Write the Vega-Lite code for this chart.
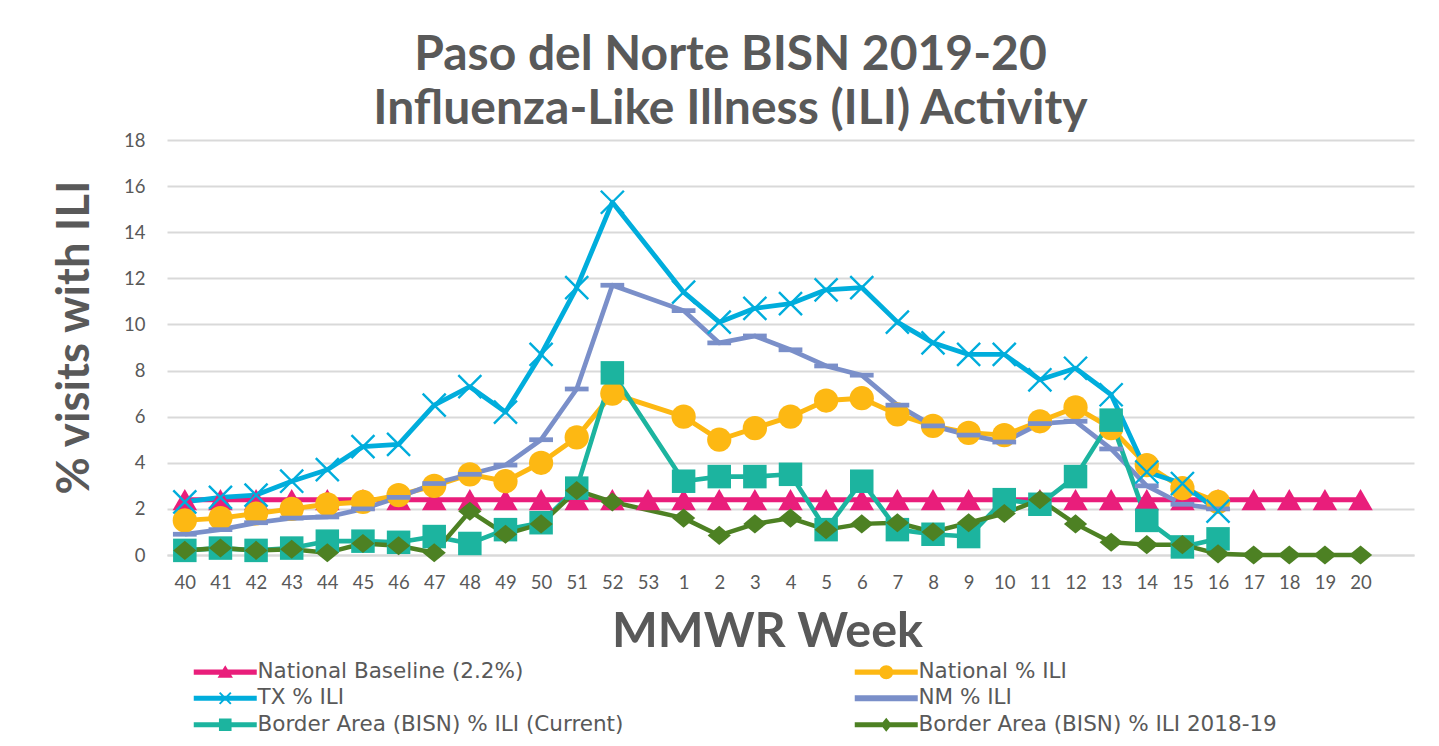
{
  "$schema": "https://vega.github.io/schema/vega-lite/v6.json",
  "width": 1247,
  "height": 415,
  "autosize": {"type": "none"},
  "padding": {"left": 167, "top": 140, "right": 25, "bottom": 191},
  "background": "white",
  "title": {
    "text": ["Paso del Norte BISN 2019-20", "Influenza-Like Illness (ILI) Activity"],
    "font": "Lato",
    "fontSize": 48,
    "fontWeight": "bold",
    "color": "#595959",
    "lineHeight": 54,
    "anchor": "middle",
    "dx": -60,
    "offset": -3
  },
  "data": {
    "values": [
      {"w": "40", "B": 2.4, "N": 1.5, "T": 2.3, "M": 0.9, "C": 0.2, "P": 0.2},
      {"w": "41", "B": 2.4, "N": 1.6, "T": 2.5, "M": 1.1, "C": 0.3, "P": 0.3},
      {"w": "42", "B": 2.4, "N": 1.8, "T": 2.6, "M": 1.4, "C": 0.2, "P": 0.2},
      {"w": "43", "B": 2.4, "N": 2.0, "T": 3.2, "M": 1.6, "C": 0.3, "P": 0.25},
      {"w": "44", "B": 2.4, "N": 2.2, "T": 3.7, "M": 1.65, "C": 0.6, "P": 0.1},
      {"w": "45", "B": 2.4, "N": 2.3, "T": 4.7, "M": 2.0, "C": 0.6, "P": 0.5},
      {"w": "46", "B": 2.4, "N": 2.6, "T": 4.8, "M": 2.5, "C": 0.55, "P": 0.4},
      {"w": "47", "B": 2.4, "N": 3.0, "T": 6.5, "M": 3.1, "C": 0.8, "P": 0.1},
      {"w": "48", "B": 2.4, "N": 3.5, "T": 7.3, "M": 3.5, "C": 0.5, "P": 1.9},
      {"w": "49", "B": 2.4, "N": 3.2, "T": 6.2, "M": 3.9, "C": 1.1, "P": 0.9},
      {"w": "50", "B": 2.4, "N": 4.0, "T": 8.7, "M": 5.0, "C": 1.4, "P": 1.35},
      {"w": "51", "B": 2.4, "N": 5.1, "T": 11.6, "M": 7.2, "C": 2.9, "P": 2.8},
      {"w": "52", "B": 2.4, "N": 7.0, "T": 15.3, "M": 11.7, "C": 7.9, "P": 2.3},
      {"w": "53", "B": 2.4},
      {"w": "1", "B": 2.4, "N": 6.0, "T": 11.4, "M": 10.6, "C": 3.2, "P": 1.6},
      {"w": "2", "B": 2.4, "N": 5.0, "T": 10.1, "M": 9.2, "C": 3.4, "P": 0.85},
      {"w": "3", "B": 2.4, "N": 5.5, "T": 10.7, "M": 9.5, "C": 3.4, "P": 1.35},
      {"w": "4", "B": 2.4, "N": 6.0, "T": 10.9, "M": 8.9, "C": 3.5, "P": 1.6},
      {"w": "5", "B": 2.4, "N": 6.7, "T": 11.5, "M": 8.2, "C": 1.1, "P": 1.1},
      {"w": "6", "B": 2.4, "N": 6.8, "T": 11.6, "M": 7.8, "C": 3.2, "P": 1.35},
      {"w": "7", "B": 2.4, "N": 6.1, "T": 10.1, "M": 6.5, "C": 1.1, "P": 1.4},
      {"w": "8", "B": 2.4, "N": 5.6, "T": 9.2, "M": 5.6, "C": 0.9, "P": 1.0},
      {"w": "9", "B": 2.4, "N": 5.3, "T": 8.7, "M": 5.2, "C": 0.8, "P": 1.4},
      {"w": "10", "B": 2.4, "N": 5.2, "T": 8.7, "M": 4.9, "C": 2.4, "P": 1.8},
      {"w": "11", "B": 2.4, "N": 5.8, "T": 7.6, "M": 5.7, "C": 2.2, "P": 2.4},
      {"w": "12", "B": 2.4, "N": 6.4, "T": 8.1, "M": 5.8, "C": 3.4, "P": 1.35},
      {"w": "13", "B": 2.4, "N": 5.5, "T": 6.95, "M": 4.6, "C": 5.85, "P": 0.55},
      {"w": "14", "B": 2.4, "N": 3.9, "T": 3.6, "M": 3.0, "C": 1.5, "P": 0.45},
      {"w": "15", "B": 2.4, "N": 2.9, "T": 3.1, "M": 2.2, "C": 0.35, "P": 0.45},
      {"w": "16", "B": 2.4, "N": 2.3, "T": 1.9, "M": 2.0, "C": 0.7, "P": 0.05},
      {"w": "17", "B": 2.4, "P": 0.0},
      {"w": "18", "B": 2.4, "P": 0.0},
      {"w": "19", "B": 2.4, "P": 0.0},
      {"w": "20", "B": 2.4, "P": 0.0}
    ]
  },
  "transform": [
    {"fold": ["B", "N", "T", "M", "C", "P"], "as": ["series", "value"]},
    {"filter": "isValid(datum.value)"}
  ],
  "encoding": {
    "x": {
      "field": "w",
      "type": "ordinal",
      "sort": ["40","41","42","43","44","45","46","47","48","49","50","51","52","53","1","2","3","4","5","6","7","8","9","10","11","12","13","14","15","16","17","18","19","20"," "],
      "scale": {"domain": ["40","41","42","43","44","45","46","47","48","49","50","51","52","53","1","2","3","4","5","6","7","8","9","10","11","12","13","14","15","16","17","18","19","20"," "]},
      "axis": {
        "title": "MMWR Week",
        "labelAngle": 0,
        "labelFont": "Lato",
        "labelFontSize": 18.5,
        "labelColor": "#595959",
        "labelPadding": 18,
        "ticks": false,
        "domain": true,
        "domainColor": "#D9D9D9",
        "domainWidth": 2,
        "titleFont": "Lato",
        "titleFontSize": 48.5,
        "titleFontWeight": "bold",
        "titleColor": "#595959",
        "titleX": 600,
        "titlePadding": 17
      }
    },
    "y": {
      "field": "value",
      "type": "quantitative",
      "scale": {"domain": [0, 18], "nice": false},
      "axis": {
        "title": "% visits with ILI",
        "values": [0,2,4,6,8,10,12,14,16,18],
        "labelFont": "Lato",
        "labelFontSize": 18.5,
        "labelColor": "#595959",
        "labelPadding": 22,
        "ticks": false,
        "domain": false,
        "grid": true,
        "gridColor": "#D9D9D9",
        "gridWidth": 2,
        "titleFont": "Lato",
        "titleFontSize": 45.5,
        "titleFontWeight": "bold",
        "titleColor": "#595959",
        "titlePadding": 25,
        "titleY": 197
      }
    }
  },
  "layer": [
    {
      "mark": {"type": "point", "filled": true, "opacity": 0},
      "encoding": {
        "color": {
          "field": "series", "type": "nominal",
          "scale": {"domain": ["B", "T", "C", "N", "M", "P"],
                    "range": ["#E91E7B", "#00ADDC", "#1CB49F", "#FDB813", "#7A8FC9", "#4D8123"]},
          "legend": {
            "title": null,
            "orient": "none",
            "legendX": 23,
            "legendY": 521,
            "columns": 2,
            "columnPadding": 227,
            "rowPadding": 3.5,
            "padding": 0,
            "labelFont": "DejaVu Sans",
            "labelFontSize": 21.5,
            "labelColor": "#595959",
            "labelLimit": 600,
            "labelOffset": 46,
            "symbolSize": 196,
            "symbolStrokeWidth": 0,
            "symbolOpacity": 1,
            "labelExpr": "{'B':'National Baseline (2.2%)','N':'National % ILI','T':'TX % ILI','M':'NM % ILI','C':'Border Area (BISN) % ILI (Current)','P':'Border Area (BISN) % ILI 2018-19'}[datum.label]"
          }
        },
        "shape": {
          "field": "series", "type": "nominal",
          "scale": {"domain": ["B", "T", "C", "N", "M", "P"],
                    "range": [
                      "M-1,-0.36L8,-0.36L8,0.36L-1,0.36Z M3.5,-1L4.6,0.8L2.4,0.8Z",
                      "M-1,-0.36L8,-0.36L8,0.36L-1,0.36Z M2.8,-0.9L4.4,0.7L4.2,0.9L2.6,-0.7Z M4.2,-0.9L4.4,-0.7L2.8,0.9L2.6,0.7Z",
                      "M-1,-0.36L8,-0.36L8,0.36L-1,0.36Z M2.6,-0.9L4.4,-0.9L4.4,0.9L2.6,0.9Z",
                      "M-1,-0.36L8,-0.36L8,0.36L-1,0.36Z M4.5,0A1,1,0,1,1,2.5,0A1,1,0,1,1,4.5,0Z",
                      "M-1,-0.42L8,-0.42L8,0.42L-1,0.42Z",
                      "M-1,-0.36L8,-0.36L8,0.36L-1,0.36Z M3.5,-1L4.3,0L3.5,1L2.7,0Z"
                    ]},
          "legend": {
            "title": null,
            "orient": "none",
            "legendX": 23,
            "legendY": 521,
            "columns": 2,
            "columnPadding": 227,
            "rowPadding": 3.5,
            "padding": 0,
            "labelFont": "DejaVu Sans",
            "labelFontSize": 21.5,
            "labelColor": "#595959",
            "labelLimit": 600,
            "labelOffset": 46,
            "symbolSize": 196,
            "symbolStrokeWidth": 0,
            "symbolOpacity": 1,
            "labelExpr": "{'B':'National Baseline (2.2%)','N':'National % ILI','T':'TX % ILI','M':'NM % ILI','C':'Border Area (BISN) % ILI (Current)','P':'Border Area (BISN) % ILI 2018-19'}[datum.label]"
          }
        }
      }
    },
    {
      "mark": {"type": "line", "strokeJoin": "round"},
      "encoding": {
        "color": {"field": "series", "type": "nominal", "legend": null},
        "strokeWidth": {
          "field": "series", "type": "nominal", "legend": null,
          "scale": {"domain": ["B", "N", "T", "M", "C", "P"], "range": [5, 4.5, 5.5, 4.5, 4, 4]}
        }
      }
    },
    {
      "transform": [{"filter": "datum.series !== 'T'"}],
      "mark": {"type": "point", "filled": true, "opacity": 1},
      "encoding": {
        "color": {"field": "series", "type": "nominal", "legend": null},
        "shape": {
          "field": "series", "type": "nominal", "legend": null,
          "scale": {"domain": ["B", "N", "T", "M", "C", "P"],
                    "range": ["triangle-up", "circle", "cross", "M-1,-0.2L1,-0.2L1,0.2L-1,0.2Z", "square", "M-1,0L0,-0.82L1,0L0,0.82Z"]}
        },
        "size": {
          "field": "series", "type": "nominal", "legend": null,
          "scale": {"domain": ["B", "N", "T", "M", "C", "P"],
                    "range": [600, 540, 400, 700, 490, 650]}
        }
      }
    },
    {
      "transform": [{"filter": "datum.series === 'T'"}],
      "mark": {"type": "point", "filled": false, "opacity": 1, "shape": "M-1,-1L1,1M-1,1L1,-1", "size": 530, "strokeWidth": 2.4},
      "encoding": {
        "color": {"field": "series", "type": "nominal", "legend": null}
      }
    }
  ],
  "resolve": {
    "scale": {"shape": "independent", "size": "independent"},
    "legend": {"color": "independent", "shape": "independent"}
  },
  "config": {
    "view": {"stroke": null},
    "font": "Lato"
  }
}
